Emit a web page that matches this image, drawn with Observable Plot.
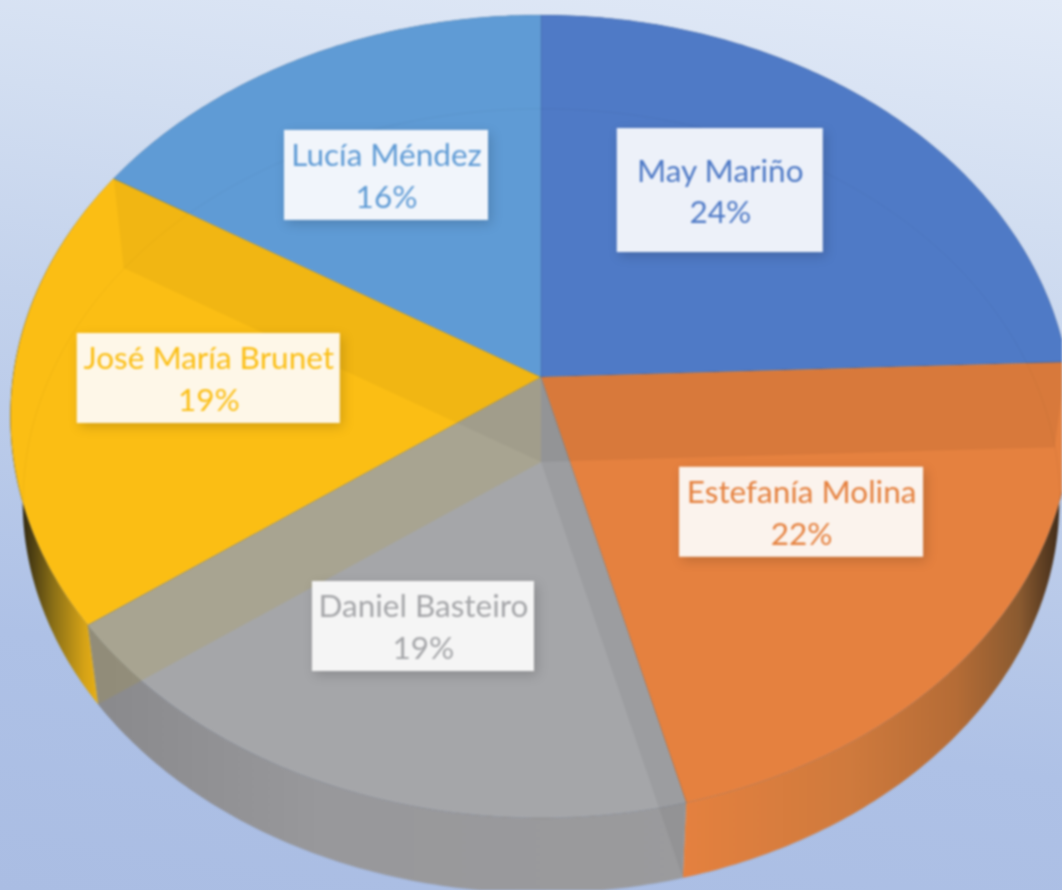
<!DOCTYPE html>
<html>
<head>
<meta charset="utf-8">
<script src="https://cdn.jsdelivr.net/npm/d3@7"></script>
<script src="https://cdn.jsdelivr.net/npm/@observablehq/plot@0.6"></script>
<style>
html,body{margin:0;padding:0;height:100%;overflow:hidden;
  background:linear-gradient(188deg,#e2eaf7 0%,#d2def1 22%,#c3d2ec 42%,#aec1e6 75%,#aabde3 100%)}
svg{display:block;filter:blur(0.8px)}
</style>
</head>
<body>
<div id="chart"></div>
<script>
// Chart data (slice sizes; labels show them rounded)
const names = ["May Mariño", "Estefanía Molina", "Daniel Basteiro", "José María Brunet", "Lucía Méndez"];
const shares = [24.4, 21.6, 19, 18.8, 16.2];
const colors = ["#4f7ac6", "#e5813f", "#a5a6a9", "#fbbe14", "#5f9bd5"];
// Label layout: spot on the pie's disc (u across, v toward viewer), and box size
const labelU = [0.355, 0.4767, -0.2106, -0.63, -0.309];
const labelV = [-0.493, 0.328, 0.59, 0.0025, -0.535];
const labelW = [206, 244, 222, 263, 204];
const labelH = [124, 90, 90, 90, 90];
const boxColors = ["#edf1f9", "#fbf3ed", "#f5f5f5", "#fef7e8", "#f1f5fb"];
// Radial wall tints, seen through the glassy top (one for each slice's starting edge)
const wallFill = ["#000000", "#000000", "#000000", "#c09a10", "#000000"];
const wallOpacity = [0, 0.055, 0.05, 0.154, 0.04];

// Perspective of the disc
const W = 1062, H = 890;
const cx = 541, cy = 377, A = 528, B = 397.6, k = 0.0983, depth = 85, shrink = 0.977;
function disc(u, v, level = 0) {
  const d = 1 - k * v, s = level ? shrink : 1;
  return {x: cx + s * A * u / d, y: cy + s * B * v / d + (level ? depth : 0)};
}
function rim(f, level = 0) {
  const a = 2 * Math.PI * f;
  return disc(Math.sin(a), -Math.cos(a), level);
}

const total = d3.sum(shares);
const starts = [0, ...d3.cumsum(shares)].map(d => d / total);
const fractions = (from, to) => {
  const n = Math.max(2, Math.ceil((to - from) * 500));
  return d3.range(n + 1).map(i => from + (to - from) * i / n);
};

const sliceRows = names.flatMap((name, i) =>
  fractions(starts[i], starts[i + 1]).map(f => {
    const p = rim(f);
    return {name, x1: cx, y1: cy, x2: p.x, y2: p.y};
  }));
const rimRows = i => fractions(starts[i], starts[i + 1]).map(f => {
  const t = rim(f), b = rim(f, 1);
  return {x1: t.x, y1: t.y, x2: b.x, y2: b.y};
});
const wallRows = i => {
  const t = rim(starts[i]), b = rim(starts[i], 1), c0 = disc(0, 0), c1 = disc(0, 0, 1);
  return [{x1: c0.x, y1: c0.y, x2: c1.x, y2: c1.y}, {x1: t.x, y1: t.y, x2: b.x, y2: b.y}];
};
const lowerEdge = fractions(0, 1).map(f => rim(f, 1));
const labels = names.map((name, i) => {
  const p = disc(labelU[i], labelV[i]);
  return {
    name, text: `${name}\n${Math.round(shares[i])}%`, x: p.x, y: p.y,
    x1: p.x - labelW[i] / 2, x2: p.x + labelW[i] / 2,
    y1: p.y - labelH[i] / 2, y2: p.y + labelH[i] / 2, box: boxColors[i]
  };
});

// Gradients
const defs = d3.create("svg:defs");
function gradient(id, stops, attrs) {
  const g = defs.append("linearGradient").attr("id", id);
  Object.entries(attrs).forEach(([k, v]) => g.attr(k, v));
  stops.forEach(([o, c]) => g.append("stop").attr("offset", o).attr("stop-color", c));
}
const sx = {gradientUnits: "userSpaceOnUse", x1: 0, x2: W, y1: 0, y2: 0};
gradient("rim1", [[0.64, "#e5813f"], [0.8, "#cf7a3d"], [0.9, "#b56c36"], [0.96, "#8a5a30"], [1, "#3d2a18"]], sx);
gradient("rim2", [[0.1, "#8a8a8d"], [0.3, "#98989b"], [0.65, "#9b9b9d"]], sx);
gradient("rim3", [[0.02, "#2e2610"], [0.05, "#8a6f16"], [0.08, "#d6a316"], [0.1, "#f2b614"]], sx);

const band = {x1: "x1", y1: "y1", x2: "x2", y2: "y2"};
const marks = [
  () => defs.node(),
  Plot.area(rimRows(0), {...band, fill: colors[0]}),
  Plot.area(rimRows(1), {...band, fill: "url(#rim1)"}),
  Plot.area(rimRows(2), {...band, fill: "url(#rim2)"}),
  Plot.area(rimRows(3), {...band, fill: "url(#rim3)"}),
  Plot.area(rimRows(4), {...band, fill: colors[4]}),
  Plot.area(sliceRows, {...band, z: "name", fill: "name",
    stroke: "#000", strokeOpacity: 0.1, strokeWidth: 1}),
  Plot.line(lowerEdge, {x: "x", y: "y", stroke: "#000", strokeOpacity: 0.045, strokeWidth: 1}),
  ...names.map((_, i) => Plot.area(wallRows(i), {...band,
    fill: wallFill[i], fillOpacity: wallOpacity[i]})),
  Plot.rect(labels, {x1: "x1", x2: "x2", y1: "y1", y2: "y2", fill: "box",
    imageFilter: "drop-shadow(3px 4px 6px rgba(0,0,0,0.16))"}),
  Plot.text(labels, {x: "x", y: "y", dy: -1.5, text: "text", fill: "name", fontSize: 31.5,
    fontFamily: "Lato", lineHeight: 1.33, lineAnchor: "middle", textAnchor: "middle"})
];

const plot = Plot.plot({
  width: W, height: H,
  margin: 0,
  style: {background: "transparent", maxWidth: "none"},
  x: {type: "identity", axis: null},
  y: {type: "identity", axis: null},
  color: {domain: names, range: colors},
  marks
});
document.getElementById("chart").append(plot);
</script>
</body>
</html>
